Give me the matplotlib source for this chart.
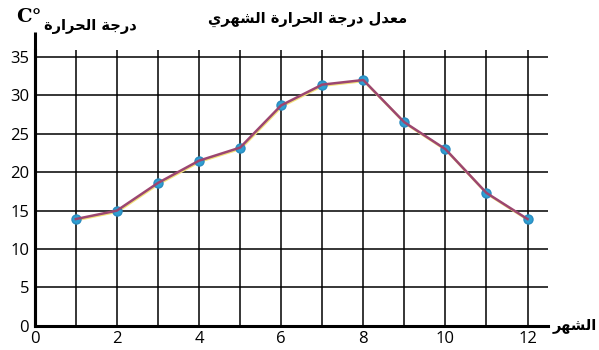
import matplotlib
matplotlib.use("Agg")
import matplotlib.pyplot as plt
from matplotlib.ticker import MultipleLocator
from matplotlib.transforms import offset_copy


months = [1, 2, 3, 4, 5, 6, 7, 8, 9, 10, 11, 12]
temps = [13.9, 15.0, 18.6, 21.5, 23.2, 28.7, 31.4, 32.0, 26.5, 23.0, 17.3, 13.9]

x_ticks = [0, 2, 4, 6, 8, 10, 12]
y_ticks = [0, 5, 10, 15, 20, 25, 30, 35]

title_text = "معدل درجة الحرارة الشهري"
ylabel_text = "درجة الحرارة"
xlabel_text = "الشهر"
unit_text = "C°"


# presentation forms: isolated, final, initial, medial
FORMS = {
    "\u0627": ("\uFE8D", "\uFE8E", None, None),
    "\u0629": ("\uFE93", "\uFE94", None, None),
    "\u062C": ("\uFE9D", "\uFE9E", "\uFE9F", "\uFEA0"),
    "\u062D": ("\uFEA1", "\uFEA2", "\uFEA3", "\uFEA4"),
    "\u062F": ("\uFEA9", "\uFEAA", None, None),
    "\u0631": ("\uFEAD", "\uFEAE", None, None),
    "\u0634": ("\uFEB5", "\uFEB6", "\uFEB7", "\uFEB8"),
    "\u0639": ("\uFEC9", "\uFECA", "\uFECB", "\uFECC"),
    "\u0644": ("\uFEDD", "\uFEDE", "\uFEDF", "\uFEE0"),
    "\u0645": ("\uFEE1", "\uFEE2", "\uFEE3", "\uFEE4"),
    "\u0647": ("\uFEE9", "\uFEEA", "\uFEEB", "\uFEEC"),
    "\u064A": ("\uFEF1", "\uFEF2", "\uFEF3", "\uFEF4"),
}


def shape(text):
    out = []
    for i, ch in enumerate(text):
        if ch not in FORMS:
            out.append(ch)
            continue
        prev = text[i - 1] if i > 0 else ""
        nxt = text[i + 1] if i + 1 < len(text) else ""
        join_prev = prev in FORMS and FORMS[prev][2] is not None
        join_next = FORMS[ch][2] is not None and nxt in FORMS
        iso, fin, ini, med = FORMS[ch]
        if join_prev and join_next:
            out.append(med)
        elif join_prev:
            out.append(fin)
        elif join_next:
            out.append(ini)
        else:
            out.append(iso)
    return "".join(reversed(out))


def draw_chart():

    fig = plt.figure(figsize=(5.99, 3.5), dpi=100)
    ax = fig.add_axes([0.058, 0.069, 0.857, 0.788])

    ax.set_xlim(0, 12.5)
    ax.set_ylim(0, 35.9)

    ax.xaxis.set_major_locator(MultipleLocator(2))
    ax.xaxis.set_minor_locator(MultipleLocator(1))
    ax.set_xticks(x_ticks)
    ax.set_yticks(y_ticks)

    ax.grid(True, which="both", axis="x", color="black", linewidth=1.1)
    ax.grid(True, which="major", axis="y", color="black", linewidth=1.1)
    ax.set_axisbelow(True)

    for side in ["top", "right"]:
        ax.spines[side].set_visible(False)
    ax.spines["bottom"].set_linewidth(2.2)
    ax.spines["left"].set_linewidth(2.2)
    ax.plot([0, 0], [0, 38.2], color="black", linewidth=2.2,
            clip_on=False, solid_capstyle="butt", zorder=3)

    ax.tick_params(which="both", length=0, labelsize=12, pad=4)
    for lab in ax.get_xticklabels() + ax.get_yticklabels():
        lab.set_family(["Open Sans", "DejaVu Sans"])

    # yellow misprint shadow under the line
    shadow = offset_copy(ax.transData, fig=fig, x=0.7, y=-1.0, units="dots")
    ax.plot(months, temps, color="#f2e27a", linewidth=1.8,
            transform=shadow, zorder=4)
    ax.plot(months, temps, linestyle="none", marker="o", markersize=6.5,
            markerfacecolor="#2e9fd2", markeredgecolor="#2a8cc0", zorder=4)
    ax.plot(months, temps, color="#9c4670", linewidth=1.8, zorder=5)

    fig.text(0.513, 0.945, shape(title_text), ha="center", va="center",
             fontsize=10.5, fontweight="bold", family=["DejaVu Sans"])
    fig.text(0.151, 0.925, shape(ylabel_text), ha="center", va="center",
             fontsize=10.5, fontweight="bold", family=["DejaVu Sans"])
    fig.text(0.049, 0.95, unit_text, ha="center", va="center",
             fontsize=14, fontweight="bold", family=["DejaVu Serif"])
    fig.text(0.996, 0.07, shape(xlabel_text), ha="right", va="center",
             fontsize=10.5, fontweight="bold", family=["DejaVu Sans"])

    fig.savefig("out.png", dpi=100)
    plt.close(fig)


if __name__ == "__main__":
    draw_chart()
